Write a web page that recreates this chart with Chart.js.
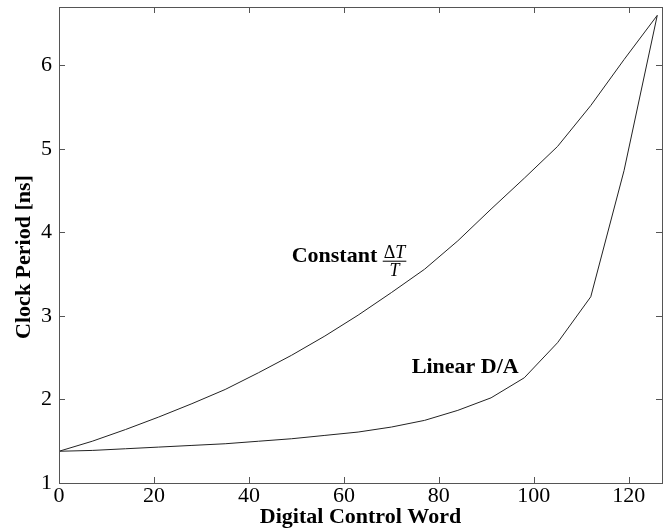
<!DOCTYPE html>
<html>
<head>
<meta charset="utf-8">
<script src="https://cdn.jsdelivr.net/npm/chart.js@4"></script>
<style>
  body { margin: 0; background: #fff; }
  canvas { display: block; }
</style>
</head>
<body>
<canvas id="clockChart" width="666" height="531"></canvas>
<script>
// digital control word (x) and the two clock period curves in ns
const controlWord = [0, 7, 14, 21, 28, 35, 42, 49, 56, 63, 70, 77, 84, 91, 98, 105, 112, 119, 126];
const constantDT = [1.38, 1.50, 1.64, 1.79, 1.95, 2.12, 2.32, 2.53, 2.76, 3.01, 3.28, 3.56, 3.90, 4.28, 4.65, 5.03, 5.52, 6.07, 6.60];
const linearDA = [1.38, 1.39, 1.41, 1.43, 1.45, 1.47, 1.50, 1.53, 1.57, 1.61, 1.67, 1.75, 1.87, 2.02, 2.26, 2.68, 3.23, 4.74, 6.60];

const xTicks = [0, 20, 40, 60, 80, 100, 120];
const yTicks = [1, 2, 3, 4, 5, 6];

const serif = '"Liberation Serif", "Times New Roman", serif';
const axisColor = '#555';
const lineColor = '#222';

function toPoints(ys) {
    return controlWord.map((x, i) => ({ x: x, y: ys[i] }));
}

// box round the plot with inward ticks on all four sides, like matlab
const frameTicks = {
    id: 'frameTicks',
    afterDatasetsDraw(chart) {
        const { ctx, chartArea: a, scales } = chart;
        const len = 6;
        ctx.save();
        ctx.strokeStyle = axisColor;
        ctx.lineWidth = 1;
        ctx.strokeRect(Math.round(a.left) + 0.5, Math.round(a.top) + 0.5,
            Math.round(a.right - a.left), Math.round(a.bottom - a.top));
        ctx.beginPath();
        xTicks.forEach(v => {
            const px = Math.round(scales.x.getPixelForValue(v)) + 0.5;
            ctx.moveTo(px, a.bottom); ctx.lineTo(px, a.bottom - len);
            ctx.moveTo(px, a.top); ctx.lineTo(px, a.top + len);
        });
        yTicks.forEach(v => {
            const py = Math.round(scales.y.getPixelForValue(v)) + 0.5;
            ctx.moveTo(a.left, py); ctx.lineTo(a.left + len, py);
            ctx.moveTo(a.right, py); ctx.lineTo(a.right - len, py);
        });
        ctx.stroke();
        ctx.restore();
    }
};

// curve labels, anchored in data coordinates
const constantLabelAt = { x: 49, y: 3.65 };
const linearLabelAt = { x: 74.3, y: 2.32 };

const curveLabels = {
    id: 'curveLabels',
    afterDraw(chart) {
        const { ctx, scales, chartArea: a } = chart;
        ctx.save();
        ctx.fillStyle = '#000';
        ctx.textBaseline = 'alphabetic';
        ctx.textAlign = 'left';

        // "Constant ΔT/T"
        let px = scales.x.getPixelForValue(constantLabelAt.x);
        let py = scales.y.getPixelForValue(constantLabelAt.y);
        ctx.font = 'bold 22px ' + serif;
        ctx.fillText('Constant', px, py);
        const w = ctx.measureText('Constant ').width;
        const fx = px + w;
        ctx.font = '18px ' + serif;
        const wD = ctx.measureText('Δ').width;
        ctx.font = 'italic 18px ' + serif;
        const wT = ctx.measureText('T').width;
        const fw = wD + wT + 2;
        ctx.font = '18px ' + serif;
        ctx.fillText('Δ', fx + 1, py - 4);
        ctx.font = 'italic 18px ' + serif;
        ctx.fillText('T', fx + 1 + wD, py - 4);
        ctx.fillRect(fx, py - 1, fw, 1);
        ctx.textAlign = 'center';
        ctx.fillText('T', fx + fw / 2, py + 14);

        // "Linear D/A"
        px = scales.x.getPixelForValue(linearLabelAt.x);
        py = scales.y.getPixelForValue(linearLabelAt.y);
        ctx.textAlign = 'left';
        ctx.font = 'bold 22px ' + serif;
        ctx.fillText('Linear D/A', px, py);

        // y axis title, sits a bit below the middle of the axis
        ctx.translate(24, (a.top + a.bottom) / 2 + 12);
        ctx.rotate(-Math.PI / 2);
        ctx.textAlign = 'center';
        ctx.textBaseline = 'middle';
        ctx.fillText('Clock Period [ns]', 0, 0);
        ctx.restore();
    }
};

const ctx = document.getElementById('clockChart').getContext('2d');

new Chart(ctx, {
    type: 'line',
    data: {
        datasets: [
            {
                label: 'Constant ΔT/T',
                data: toPoints(constantDT),
                borderColor: lineColor,
                borderWidth: 1,
                pointRadius: 0,
                tension: 0,
                fill: false
            },
            {
                label: 'Linear D/A',
                data: toPoints(linearDA),
                borderColor: lineColor,
                borderWidth: 1,
                pointRadius: 0,
                tension: 0,
                fill: false
            }
        ]
    },
    options: {
        responsive: false,
        animation: false,
        layout: { padding: { top: 7, right: 4, left: 0, bottom: 0 } },
        plugins: {
            legend: { display: false },
            tooltip: { enabled: false }
        },
        scales: {
            x: {
                type: 'linear',
                min: 0,
                max: 127,
                afterBuildTicks: s => { s.ticks = xTicks.map(v => ({ value: v })); },
                afterFit: s => { s.height = 48; s.paddingLeft = 0; s.paddingRight = 0; },
                grid: { display: false, drawTicks: false },
                border: { display: false },
                ticks: {
                    padding: 0,
                    color: '#000',
                    font: { family: serif, size: 22 },
                    maxRotation: 0
                },
                title: {
                    display: true,
                    text: 'Digital Control Word',
                    color: '#000',
                    font: { family: serif, size: 22, weight: 'bold' },
                    padding: { top: 0, bottom: 0 }
                }
            },
            y: {
                type: 'linear',
                min: 1,
                max: 6.7,
                afterBuildTicks: s => { s.ticks = yTicks.map(v => ({ value: v })); },
                afterFit: s => { s.width = 59; s.paddingTop = 0; s.paddingBottom = 0; },
                grid: { display: false, drawTicks: false },
                border: { display: false },
                ticks: {
                    padding: 7,
                    color: '#000',
                    font: { family: serif, size: 22 }
                }
            }
        }
    },
    plugins: [frameTicks, curveLabels]
});
</script>
</body>
</html>
